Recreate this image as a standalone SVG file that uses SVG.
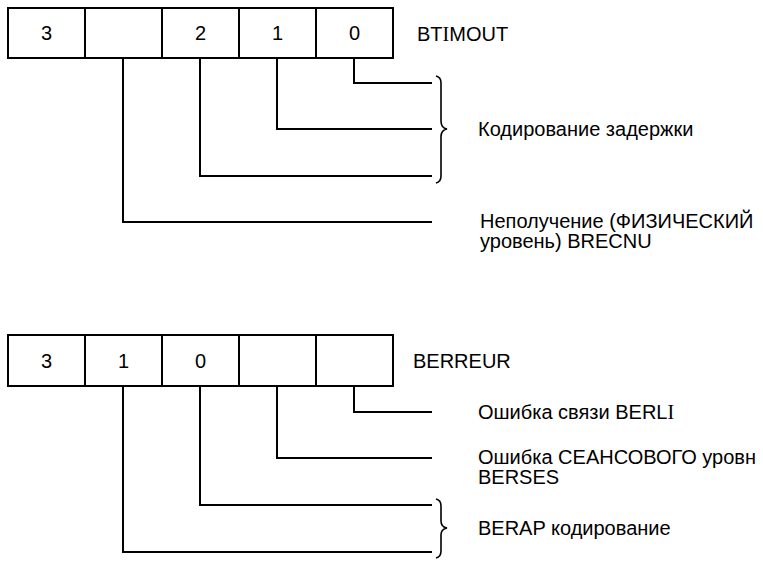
<svg xmlns="http://www.w3.org/2000/svg" width="763" height="561" viewBox="0 0 763 561">
<style>
.box{fill:#fff;stroke:#000;stroke-width:2}
.ln{fill:none;stroke:#000;stroke-width:2}
.br{fill:none;stroke:#000;stroke-width:1.6}
text{font-family:"Liberation Sans",Arial,sans-serif;font-size:20px;fill:#000}
.c{text-anchor:middle}
.s{font-family:"Liberation Serif","Times New Roman",serif}
</style>
<rect width="763" height="561" fill="#fff"/>
<g id="btimout">
  <rect class="box" x="8" y="8" width="77" height="50"/>
  <rect class="box" x="85" y="8" width="77" height="50"/>
  <rect class="box" x="162" y="8" width="77" height="50"/>
  <rect class="box" x="239" y="8" width="77" height="50"/>
  <rect class="box" x="316" y="8" width="77" height="50"/>
  <text class="c" x="46.5" y="40">3</text>
  <text class="c" x="200.5" y="40">2</text>
  <text class="c" x="277.5" y="40">1</text>
  <text class="c" x="354.5" y="40">0</text>
  <text x="417" y="41">BT<tspan class="s">I</tspan>MOUT</text>
</g>
<g id="berreur">
  <rect class="box" x="8" y="335" width="77" height="51"/>
  <rect class="box" x="85" y="335" width="77" height="51"/>
  <rect class="box" x="162" y="335" width="77" height="51"/>
  <rect class="box" x="239" y="335" width="77" height="51"/>
  <rect class="box" x="316" y="335" width="77" height="51"/>
  <text class="c" x="46.5" y="368">3</text>
  <text class="c" x="123.5" y="368">1</text>
  <text class="c" x="200.5" y="368">0</text>
  <text x="413" y="368">BERREUR</text>
</g>
<g id="connectors">
  <path class="ln" d="M354,58 V83 H432"/>
  <path class="ln" d="M277,58 V129 H432"/>
  <path class="ln" d="M200,58 V176 H432"/>
  <path class="ln" d="M123,58 V222 H432"/>
  <path class="br" d="M436,76 Q441,77 441,83 V121 Q441,128 447,129 Q441,130 441,137 V176 Q441,182 436,183"/>
  <path class="ln" d="M354,386 V412 H432"/>
  <path class="ln" d="M277,386 V458 H432"/>
  <path class="ln" d="M200,386 V505 H432"/>
  <path class="ln" d="M123,386 V552 H432"/>
  <path class="br" d="M436,499 Q441,500 441,506 V521 Q441,527 447,528 Q441,529 441,535 V551 Q441,557 436,558"/>
</g>
<g id="labels">
  <text x="478" y="136">Кодирование задержки</text>
  <text x="480" y="228">Неполучение (ФИЗИЧЕСКИЙ</text>
  <text x="480" y="248">уровень) BRECNU</text>
  <text x="478" y="419">Ошибка связи BERL<tspan class="s">I</tspan></text>
  <text x="478" y="464">Ошибка СЕАНСОВОГО уровн</text>
  <text x="478" y="484">BERSES</text>
  <text x="478" y="535">BERAP кодирование</text>
</g>
</svg>
